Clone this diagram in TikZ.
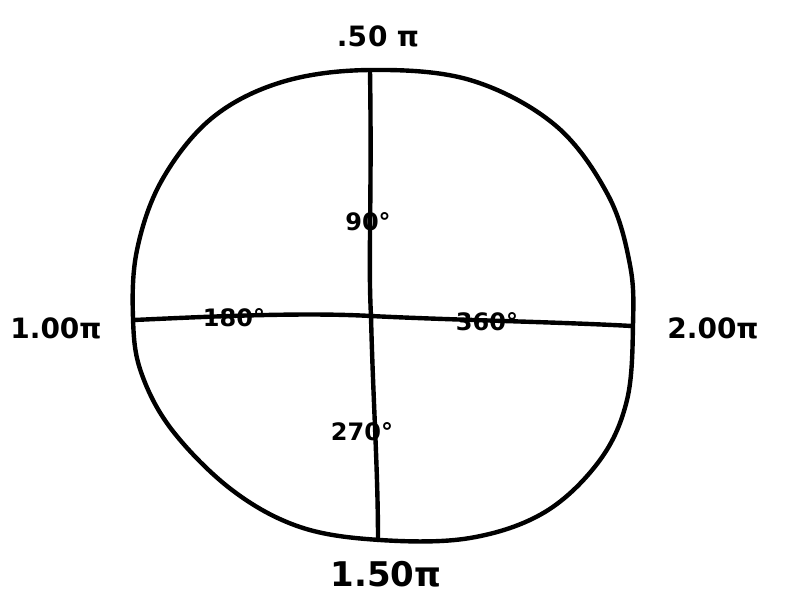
\documentclass[tikz,border=0pt]{standalone}
\usepackage{fontspec}
\setmainfont{DejaVu Sans}
\begin{document}
\begin{tikzpicture}[x=1pt,y=-1pt,
  stroke/.style={line width=4.4pt,line cap=round,line join=round},
  lbl/.style={inner sep=0pt,font=\fontsize{28}{30}\selectfont\bfseries},
  biglbl/.style={inner sep=0pt,font=\fontsize{34}{36}\selectfont\bfseries},
  deg/.style={inner sep=0pt,font=\fontsize{24}{26}\selectfont\bfseries}]
\useasboundingbox (0,0) rectangle (785,594);
% outline of the circle
\draw[stroke] plot[smooth cycle,tension=0.6] coordinates {
 (370,70) (470,80) (555,125) (608,195) (630,265) (633,325) (627,400)
 (600,460) (545,512) (470,538) (380,540) (300,527) (232,490) (172,430)
 (141,372) (133,318) (137,250) (162,180) (212,118) (282,82)};
% axis end points
\coordinate (top) at (370,71);
\coordinate (bot) at (378,540);
\coordinate (lft) at (134,320);
\coordinate (rgt) at (632,326);
\coordinate (ctr) at (371,316);
\draw[stroke] (top) .. controls (372,200) and (368,260) .. (ctr) .. controls (373,400) and (378,470) .. (bot);
\draw[stroke] (lft) .. controls (200,317) and (300,312) .. (ctr) .. controls (450,320) and (560,322) .. (rgt);
% labels
\node[lbl] (ltop) at (378,36) {.5\kern1pt0\,\,π};
\node[lbl] (llft) at (56,328) {1.00π};
\node[lbl] (lrgt) at (713,328) {2.00π};
\node[biglbl] (lbot) at (386,574) {1.50π};
\node[deg] (d180) at (234,318) {180°};
\node[deg] (d360) at (487,322) {360°};
\node[deg] (d90) at (368,222) {90°};
\node[deg] (d270) at (362,432) {270°};
\end{tikzpicture}
\end{document}
